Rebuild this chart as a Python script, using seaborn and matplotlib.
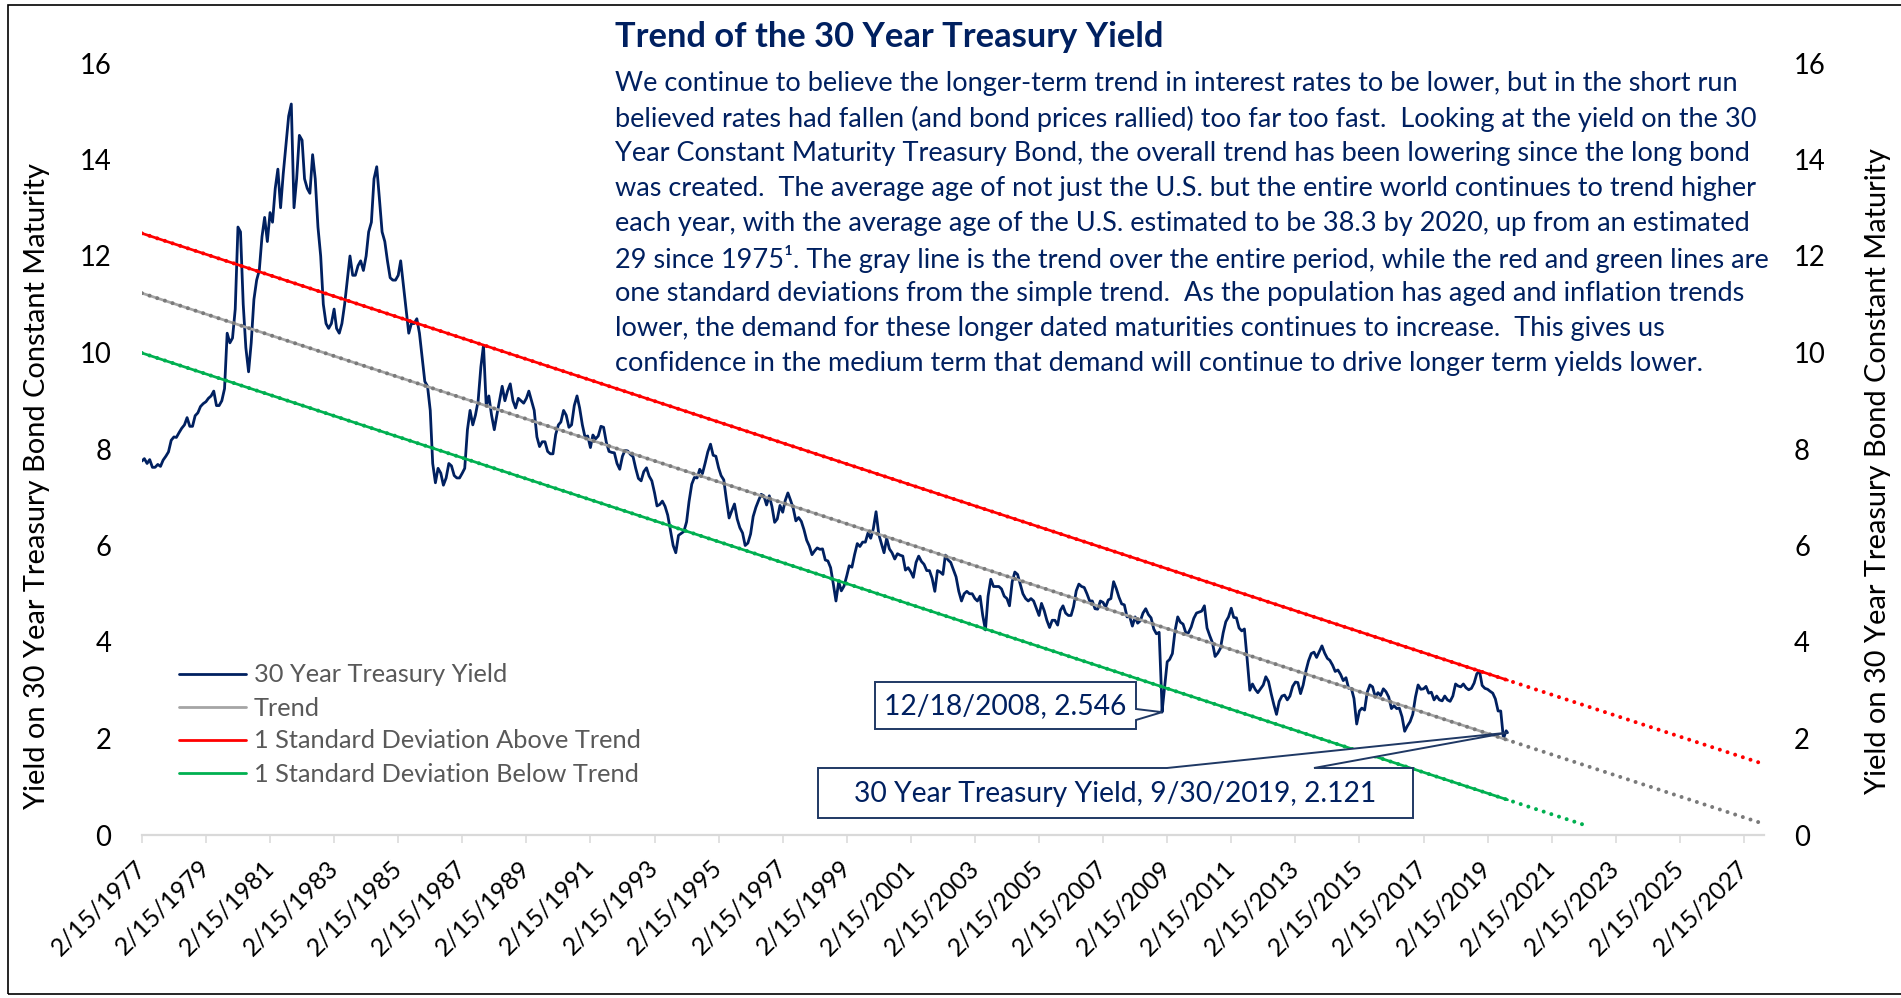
import numpy as np
import pandas as pd
import matplotlib
matplotlib.use("Agg")
import matplotlib.pyplot as plt
import matplotlib.dates as mdates
from matplotlib.lines import Line2D
from matplotlib.patches import Polygon, Rectangle
import seaborn as sns

# ------------------------------------------------------------------ data
# 30 year treasury yield, one value per month (mid-month)
series_start = "1977-02-15"
yields_1977_1986 = [
    [7.75, 7.80, 7.70, 7.78, 7.62, 7.62, 7.68, 7.64, 7.77, 7.85, 7.94],            # 1977 Feb-Dec
    [8.18, 8.25, 8.24, 8.34, 8.43, 8.50, 8.65, 8.47, 8.47, 8.69, 8.75, 8.88],      # 1978
    [8.94, 8.98, 9.05, 9.10, 9.20, 8.90, 8.90, 9.00, 9.25, 10.40, 10.20, 10.30],   # 1979
    [10.90, 12.60, 12.50, 11.00, 10.10, 9.60, 10.20, 11.10, 11.50, 11.70, 12.40, 12.80],
    [12.30, 12.90, 12.70, 13.40, 13.80, 13.00, 13.70, 14.30, 14.90, 15.15, 13.00, 13.60],
    [14.50, 14.40, 13.60, 13.40, 13.30, 14.10, 13.60, 12.60, 12.00, 11.00, 10.60, 10.50],
    [10.60, 10.90, 10.50, 10.40, 10.60, 11.00, 11.50, 12.00, 11.60, 11.60, 11.80, 11.90],
    [11.70, 12.00, 12.50, 12.70, 13.60, 13.85, 13.20, 12.50, 12.30, 11.90, 11.55, 11.50],
    [11.50, 11.60, 11.90, 11.40, 10.90, 10.40, 10.60, 10.60, 10.70, 10.40, 9.90, 9.40],
    [9.30, 8.80, 7.70, 7.30, 7.60, 7.50, 7.25, 7.40, 7.70, 7.65, 7.45, 7.40],      # 1986
]
yields_1987_1996 = [
    [7.40, 7.50, 7.60, 8.40, 8.80, 8.50, 8.70, 9.00, 9.70, 10.15, 8.90, 9.10],     # 1987
    [8.70, 8.40, 8.70, 9.00, 9.30, 9.00, 9.20, 9.35, 9.00, 8.85, 9.05, 9.00],
    [8.95, 9.05, 9.20, 9.00, 8.80, 8.25, 8.05, 8.15, 8.15, 7.95, 7.90, 7.90],
    [8.30, 8.50, 8.56, 8.80, 8.70, 8.45, 8.50, 8.90, 9.10, 8.85, 8.50, 8.25],
    [8.27, 8.03, 8.29, 8.21, 8.27, 8.47, 8.45, 8.14, 7.95, 7.93, 7.92, 7.70],
    [7.58, 7.85, 7.97, 7.96, 7.89, 7.84, 7.60, 7.39, 7.34, 7.53, 7.61, 7.44],
    [7.34, 7.09, 6.82, 6.85, 6.92, 6.81, 6.63, 6.32, 6.00, 5.85, 6.21, 6.25],
    [6.29, 6.49, 6.91, 7.27, 7.41, 7.40, 7.58, 7.49, 7.71, 7.94, 8.10, 7.87],
    [7.85, 7.61, 7.45, 7.36, 6.95, 6.57, 6.72, 6.86, 6.55, 6.37, 6.26, 6.00],
    [6.05, 6.24, 6.60, 6.79, 6.93, 7.06, 7.03, 6.84, 7.03, 6.81, 6.48, 6.55],      # 1996
]
yields_1997_2006 = [
    [6.83, 6.69, 6.93, 7.09, 6.94, 6.77, 6.51, 6.58, 6.50, 6.33, 6.11, 5.99],      # 1997
    [5.81, 5.89, 5.95, 5.92, 5.93, 5.70, 5.68, 5.54, 5.20, 4.85, 5.25, 5.06],
    [5.16, 5.37, 5.58, 5.55, 5.81, 6.04, 5.98, 6.07, 6.07, 6.26, 6.15, 6.35],
    [6.70, 6.23, 6.05, 5.85, 6.15, 5.93, 5.85, 5.72, 5.83, 5.80, 5.78, 5.49],
    [5.54, 5.45, 5.34, 5.65, 5.78, 5.67, 5.61, 5.48, 5.48, 5.32, 5.05, 5.48],
    [5.45, 5.40, 5.80, 5.70, 5.65, 5.50, 5.35, 5.05, 4.85, 5.00, 5.05, 5.00],
    [5.00, 4.90, 4.85, 4.95, 4.55, 4.25, 4.95, 5.30, 5.15, 5.15, 5.15, 5.10],
    [4.95, 4.90, 4.75, 5.25, 5.45, 5.40, 5.20, 5.00, 4.90, 4.85, 4.90, 4.85],
    [4.70, 4.55, 4.80, 4.65, 4.45, 4.30, 4.45, 4.45, 4.35, 4.65, 4.75, 4.60],
    [4.55, 4.55, 4.73, 5.06, 5.20, 5.15, 5.13, 5.00, 4.85, 4.85, 4.69, 4.68],      # 2006
]
yields_2007_2019 = [
    [4.85, 4.82, 4.72, 4.87, 4.90, 5.25, 5.11, 4.93, 4.79, 4.77, 4.52, 4.53],      # 2007
    [4.33, 4.52, 4.39, 4.44, 4.60, 4.69, 4.57, 4.50, 4.27, 4.17, 4.20, 2.80],
    [3.05, 3.59, 3.64, 3.76, 4.23, 4.52, 4.41, 4.37, 4.19, 4.19, 4.31, 4.49],
    [4.60, 4.62, 4.64, 4.75, 4.29, 4.13, 3.99, 3.70, 3.77, 3.87, 4.19, 4.42],
    [4.52, 4.70, 4.51, 4.50, 4.29, 4.23, 4.27, 3.65, 3.00, 3.13, 3.02, 2.95],
    [3.03, 3.11, 3.28, 3.18, 2.93, 2.70, 2.50, 2.77, 2.88, 2.90, 2.80, 2.88],
    [3.08, 3.17, 3.16, 2.93, 3.11, 3.40, 3.61, 3.76, 3.79, 3.68, 3.80, 3.92],
    [3.77, 3.66, 3.62, 3.52, 3.39, 3.42, 3.33, 3.20, 3.26, 3.04, 3.04, 2.83],
    [2.30, 2.57, 2.63, 2.59, 2.96, 3.11, 3.07, 2.86, 2.95, 2.89, 3.03, 2.97],
    [2.86, 2.62, 2.68, 2.62, 2.63, 2.45, 2.15, 2.26, 2.35, 2.50, 2.86, 3.11],
    [3.02, 3.03, 3.08, 2.94, 2.96, 2.80, 2.88, 2.80, 2.78, 2.88, 2.80, 2.77],
    [2.88, 3.13, 3.09, 3.07, 3.13, 3.05, 3.01, 3.04, 3.15, 3.34, 3.40, 3.10],
    [3.04, 3.02, 2.98, 2.94, 2.82, 2.57, 2.57, 2.00, 2.16],                        # 2019 Jan-Sep
]
# annotated daily observations
marked_dates = ["2008-12-18", "2019-09-30"]
marked_values = [2.546, 2.121]

# linear trend (start, last observation, end of projection) and its band
trend_dates = ["1977-02-15", "2019-09-30", "2027-09-30"]
trend_values = [11.23, 1.97, 0.23]
band_sd = 1.24
green_projection_end = "2022-03-15"

x_tick_labels = ["2/15/1977", "2/15/1979", "2/15/1981", "2/15/1983", "2/15/1985",
                 "2/15/1987", "2/15/1989", "2/15/1991", "2/15/1993", "2/15/1995",
                 "2/15/1997", "2/15/1999", "2/15/2001", "2/15/2003", "2/15/2005",
                 "2/15/2007", "2/15/2009", "2/15/2011", "2/15/2013", "2/15/2015",
                 "2/15/2017", "2/15/2019", "2/15/2021", "2/15/2023", "2/15/2025",
                 "2/15/2027"]
y_ticks = [0, 2, 4, 6, 8, 10, 12, 14, 16]

legend_labels = ["30 Year Treasury Yield", "Trend",
                 "1 Standard Deviation Above Trend", "1 Standard Deviation Below Trend"]
ylabel_text = "Yield on 30 Year Treasury Bond Constant Maturity"
title_text = "Trend of the 30 Year Treasury Yield"
body_lines = [
    "We continue to believe the longer-term trend in interest rates to be lower, but in the short run",
    "believed rates had fallen (and bond prices rallied) too far too fast.  Looking at the yield on the 30",
    "Year Constant Maturity Treasury Bond, the overall trend has been lowering since the long bond",
    "was created.  The average age of not just the U.S. but the entire world continues to trend higher",
    "each year, with the average age of the U.S. estimated to be 38.3 by 2020, up from an estimated",
    "29 since 1975\u00b9. The gray line is the trend over the entire period, while the red and green lines are",
    "one standard deviations from the simple trend.  As the population has aged and inflation trends",
    "lower, the demand for these longer dated maturities continues to increase.  This gives us",
    "confidence in the medium term that demand will continue to drive longer term yields lower.",
]

# ------------------------------------------------------------------ style
NAVY = "#002060"
BOX_EDGE = "#1F3864"
GRAY = "#A5A5A5"
GRAY_DOT = "#7A7A7A"
RED = "#FF0000"
GREEN = "#00B050"
AXIS_GRAY = "#D9D9D9"

sns.set_theme(style="white")
plt.rcParams["font.family"] = ["Lato", "DejaVu Sans"]

W, H, DPI = 1901, 998, 100
fig = plt.figure(figsize=(W / DPI, H / DPI), dpi=DPI, facecolor="white")
renderer = fig.canvas.get_renderer()


def fx(x):
    return x / W


def fy(y):
    return 1.0 - y / H


def text_width(s, size, weight="normal"):
    t = fig.text(0, 0, s, fontsize=size, fontweight=weight)
    w = t.get_window_extent(renderer).width
    t.remove()
    return w


# ------------------------------------------------------------------ build data frames
monthly = [v for block in (yields_1977_1986, yields_1987_1996, yields_1997_2006, yields_2007_2019)
           for year in block for v in year]
start = pd.Timestamp(series_start)
dates = pd.date_range(start.replace(day=1), periods=len(monthly), freq="MS") + pd.Timedelta(days=start.day - 1)
df = pd.DataFrame({"date": dates, "yield": monthly})
df = pd.concat([df, pd.DataFrame({"date": pd.to_datetime(marked_dates), "yield": marked_values})])
df = df.sort_values("date").reset_index(drop=True)

td = pd.to_datetime(trend_dates)
tv = np.array(trend_values)

# ------------------------------------------------------------------ axes geometry
tick_dates = pd.to_datetime(x_tick_labels, format="%m/%d/%Y")
AX_L, AX_LASTTICK, AX_B, AX_T = 141.9, 1743.9, 835.0, 63.0
px_per_day = (AX_LASTTICK - AX_L) / (tick_dates[-1] - tick_dates[0]).days
ax_w = (td[-1] - tick_dates[0]).days * px_per_day
ax = fig.add_axes([fx(AX_L), fy(AX_B), ax_w / W, (AX_B - AX_T) / H])
ax.patch.set_alpha(0)

# ------------------------------------------------------------------ lines
sns.lineplot(data=df, x="date", y="yield", ax=ax, color=NAVY, linewidth=2.0,
             errorbar=None, zorder=3)

dot_style = (0, (0.001, 2.0))
for offset, solid_c, dot_c in [(0.0, GRAY, GRAY_DOT), (band_sd, RED, RED), (-band_sd, GREEN, GREEN)]:
    sns.lineplot(x=td[:2], y=tv[:2] + offset, ax=ax, color=solid_c, linewidth=1.95,
                 errorbar=None, zorder=4)
    if offset < 0:
        end = pd.Timestamp(green_projection_end)
        xs_num = mdates.date2num(td)
        end_val = np.interp(mdates.date2num(end), xs_num, tv) + offset
        dx = [td[0], end]
        dy = [tv[0] + offset, end_val]
    else:
        dx = [td[0], td[-1]]
        dy = [tv[0] + offset, tv[-1] + offset]
    sns.lineplot(x=dx, y=dy, ax=ax, color=dot_c, linewidth=2.9, linestyle=dot_style,
                 dash_capstyle="round", errorbar=None, zorder=5)

# ------------------------------------------------------------------ axes formatting
ax.set_xlim(mdates.date2num(tick_dates[0]), mdates.date2num(td[-1]))
ax.set_ylim(y_ticks[0], y_ticks[-1])
ax.set_xticks(mdates.date2num(tick_dates))
ax.set_xticklabels(x_tick_labels, rotation=45, ha="right", va="center", rotation_mode="anchor")
ax.set_yticks(y_ticks)
ax.set_yticklabels([str(v) for v in y_ticks])
ax.tick_params(axis="x", direction="out", length=5.8, width=1.1, color=AXIS_GRAY,
               pad=15, labelsize=17.8, labelcolor="black", bottom=True)
ax.tick_params(axis="y", length=0, pad=21.8, labelsize=19.8, labelcolor="black",
               labelleft=True, labelright=True, left=False, right=False)
for s in ["top", "left", "right"]:
    ax.spines[s].set_visible(False)
ax.spines["bottom"].set_color(AXIS_GRAY)
ax.spines["bottom"].set_linewidth(1.6)
ax.set_xlabel("")
ax.set_ylabel("")
ax.grid(False)

# ------------------------------------------------------------------ texts
title_size = 24 * 549 / text_width(title_text, 24, "bold")
fig.text(fx(615), fy(37), title_text, fontsize=title_size, fontweight="bold",
         color=NAVY, ha="left", va="center")

body_ref_widths = [1126, 1144, 1133, 1140, 1135, 1156, 1135, 1054, 1094]
base = 20
body_size = base * sum(body_ref_widths) / sum(text_width(l, base) for l in body_lines)
for i, line in enumerate(body_lines):
    fig.text(fx(615), fy(83.5 + 35 * i), line, fontsize=body_size, color=NAVY,
             ha="left", va="center")

yl_size = 20 * 648 / text_width(ylabel_text, 20)
fig.text(fx(37), fy(486), ylabel_text, rotation=90, fontsize=yl_size, color="black",
         ha="center", va="center")
fig.text(fx(1878), fy(471), ylabel_text, rotation=90, fontsize=yl_size, color="black",
         ha="center", va="center")

# ------------------------------------------------------------------ legend
leg_size = 20 * 389 / text_width(legend_labels[2], 20)
leg_px = leg_size * DPI / 72
handles = [Line2D([], [], color=c, lw=2.0) for c in [NAVY, GRAY, RED, GREEN]]


def make_legend(ls, anchor):
    return ax.legend(handles, legend_labels, loc="upper left", bbox_to_anchor=anchor,
                     bbox_transform=fig.transFigure, frameon=False, fontsize=leg_size,
                     labelcolor="#595959", handlelength=67 / leg_px,
                     handletextpad=8 / leg_px, labelspacing=ls, borderpad=0,
                     borderaxespad=0)


ls = 0.3
anchor = (fx(179), fy(655))
leg = make_legend(ls, anchor)
fig.canvas.draw()
tx = leg.get_texts()
b0, b3 = tx[0].get_window_extent(renderer), tx[-1].get_window_extent(renderer)
actual = ((b0.y0 + b0.y1) / 2 - (b3.y0 + b3.y1) / 2) / 3
ls = ls + (33.0 - actual) / leg_px
leg.remove()
leg = make_legend(ls, anchor)
fig.canvas.draw()
b0 = leg.get_texts()[0].get_window_extent(renderer)
dxp = 254 - b0.x0
dyp = (H - 675) - (b0.y0 + b0.y1) / 2
leg.set_bbox_to_anchor((anchor[0] + dxp / W, anchor[1] + dyp / H), transform=fig.transFigure)

# ------------------------------------------------------------------ callouts


def data_px(date, val):
    d = ax.transData.transform((mdates.date2num(pd.Timestamp(date)), val))
    return d[0], H - d[1]


def add_callout(pts, text, center, target_w):
    poly = Polygon([(fx(x), fy(y)) for x, y in pts], closed=True, facecolor="white",
                   edgecolor=BOX_EDGE, linewidth=1.4, transform=fig.transFigure, zorder=10)
    fig.add_artist(poly)
    size = 20 * target_w / text_width(text, 20)
    fig.text(fx(center[0]), fy(center[1]), text, fontsize=size, color=NAVY,
             ha="center", va="center", zorder=11)


def fmt(date, val):
    d = pd.Timestamp(date)
    return f"{d.month}/{d.day}/{d.year}, {val}"


tip1 = data_px(marked_dates[0], marked_values[0])
add_callout([(875, 682), (1136, 682), (1136, 709), tip1, (1136, 720), (1136, 729), (875, 729)],
            fmt(marked_dates[0], marked_values[0]), (1005.5, 706), 242)
tip2 = data_px(marked_dates[1], marked_values[1])
add_callout([(818, 768), (1167, 768), tip2, (1314, 768), (1413, 768), (1413, 818), (818, 818)],
            "30 Year Treasury Yield, " + fmt(marked_dates[1], marked_values[1]), (1115.5, 794), 523)

# ------------------------------------------------------------------ outer frame
fig.add_artist(Rectangle((fx(8), fy(994)), 1.0, fy(5) - fy(994), fill=False,
                         edgecolor="#000000", linewidth=1.2, transform=fig.transFigure,
                         clip_on=False, zorder=20))

fig.savefig("out.png", dpi=DPI, facecolor="white")
